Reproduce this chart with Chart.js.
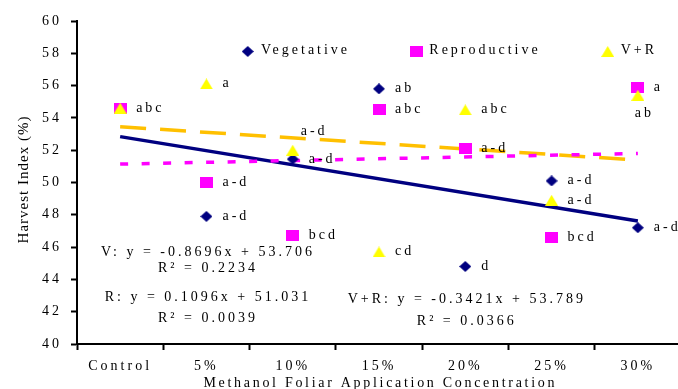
<!DOCTYPE html>
<html>
<head>
<meta charset="utf-8">
<script src="https://cdn.jsdelivr.net/npm/chart.js@4"></script>
<style>
  html, body { margin: 0; padding: 0; background: #fff; overflow: hidden; }
  #chartBox { width: 690px; height: 389px; }
</style>
</head>
<body>
<div id="chartBox"><canvas id="chart" width="690" height="389"></canvas></div>
<script>
// values
const categories = ["Control", "5%", "10%", "15%", "20%", "25%", "30%"];
const vegetative = [54.6, 47.9, 51.45, 55.8, 44.8, 50.1, 47.2];
const reproductive = [54.6, 50.0, 46.7, 54.5, 52.1, 46.6, 55.9];
const vPlusR = [54.6, 56.1, 52.0, 45.7, 54.5, 48.9, 55.4];

const vegLetters = ["", "a-d", "a-d", "ab", "d", "a-d", "a-d"];
const repLetters = ["abc", "a-d", "bcd", "abc", "a-d", "bcd", "a"];
const vrLetters = ["", "a", "a-d", "cd", "abc", "a-d", "ab"];

// trend lines, first and last category
const vegTrend = [52.84, 47.62];
const repTrend = [51.14, 51.80];
const vrTrend = [53.45, 51.39];

const yTicks = [40, 42, 44, 46, 48, 50, 52, 54, 56, 58, 60];

const equations = [
  { text: "V: y = -0.8696x + 53.706", x: 1, y: 45.46 },
  { text: "R\u00b2 = 0.2234", x: 1, y: 44.45 },
  { text: "R: y = 0.1096x + 51.031", x: 1, y: 42.68 },
  { text: "R\u00b2 = 0.0039", x: 1, y: 41.38 },
  { text: "V+R: y = -0.3421x + 53.789", x: 4, y: 42.53 },
  { text: "R\u00b2 = 0.0366", x: 4, y: 41.19 },
];

const serif = "'Liberation Serif', 'Times New Roman', serif";
const navy = "#000080";
const magenta = "#ff00ff";
const yellow = "#ffff00";
const orange = "#ffc000";

const makeMarker = (shape, w, h, color) => {
  const c = document.createElement("canvas");
  c.width = w;
  c.height = h;
  const g = c.getContext("2d");
  g.fillStyle = color;
  g.beginPath();
  if (shape === "diamond") {
    g.moveTo(w / 2, 0); g.lineTo(w, h / 2); g.lineTo(w / 2, h); g.lineTo(0, h / 2);
  } else if (shape === "triangle") {
    g.moveTo(w / 2, 0); g.lineTo(w, h); g.lineTo(0, h);
  } else {
    g.rect(0, 0, w, h);
  }
  g.closePath();
  g.fill();
  return c;
};

const diamond = makeMarker("diamond", 12, 11, navy);
const square = makeMarker("square", 13, 11, magenta);
const triangle = makeMarker("triangle", 13, 11, yellow);

// label offsets from the point (baseline), a couple sit elsewhere
const labelOffset = { dx: 16, dy: 3.5 };
const specialOffsets = { "2-2": { dx: 8, dy: -15.7 }, "2-6": { dx: -3, dy: 21.4 } };

const spacingPlugin = {
  id: "spacing",
  beforeDraw: (chart) => { chart.ctx.letterSpacing = "3px"; },
};

const extrasPlugin = {
  id: "extras",
  afterDraw: (chart) => {
    const ctx = chart.ctx;
    const xs = chart.scales.x;
    const ys = chart.scales.y;
    ctx.save();
    ctx.fillStyle = "#000";
    ctx.font = "14px " + serif;
    ctx.letterSpacing = "3px";
    ctx.textBaseline = "alphabetic";

    // point letters
    [vegLetters, repLetters, vrLetters].forEach((letters, i) => {
      const meta = chart.getDatasetMeta(i);
      letters.forEach((txt, j) => {
        if (!txt) return;
        const pt = meta.data[j];
        const off = specialOffsets[i + "-" + j] || labelOffset;
        ctx.textAlign = "left";
        ctx.fillText(txt, pt.x + off.dx, pt.y + off.dy);
      });
    });

    // equations
    ctx.textAlign = "center";
    equations.forEach((eq) => {
      ctx.fillText(eq.text, xs.getPixelForValue(eq.x) + 1.5, ys.getPixelForValue(eq.y));
    });

    // legend
    const legend = [
      { marker: diamond, label: "Vegetative", mx: 247.7, tx: 261 },
      { marker: square, label: "Reproductive", mx: 416.7, tx: 429.3 },
      { marker: triangle, label: "V+R", mx: 607.7, tx: 620.7 },
    ];
    ctx.textAlign = "left";
    legend.forEach((item) => {
      const m = item.marker;
      ctx.drawImage(m, item.mx - m.width / 2, 51.5 - m.height / 2);
      ctx.fillText(item.label, item.tx, 54.3);
    });

    // axis titles
    ctx.textAlign = "center";
    ctx.letterSpacing = "2.7px";
    ctx.fillText("Methanol Foliar Application Concentration", (chart.chartArea.left + chart.chartArea.right) / 2 + 1.3, 386.7);

    ctx.font = "15px " + serif;
    ctx.letterSpacing = "1px";
    ctx.translate(27.5, 180);
    ctx.rotate(-Math.PI / 2);
    ctx.fillText("Harvest Index (%)", 0.5, 0);
    ctx.restore();
  },
};

const pointSet = (label, data, marker, order) => ({
  label: label,
  data: data,
  showLine: false,
  pointStyle: marker,
  pointRadius: 6,
  order: order,
});

const trendSet = (data, color, dash, order) => ({
  data: [
    { x: categories[0], y: data[0] },
    { x: categories[categories.length - 1], y: data[1] },
  ],
  borderColor: color,
  borderWidth: 3.5,
  borderDash: dash,
  borderCapStyle: "butt",
  pointRadius: 0,
  fill: false,
  order: order,
});

new Chart(document.getElementById("chart").getContext("2d"), {
  type: "line",
  data: {
    labels: categories,
    datasets: [
      pointSet("Vegetative", vegetative, diamond, 3),
      pointSet("Reproductive", reproductive, square, 2),
      pointSet("V+R", vPlusR, triangle, 1),
      trendSet(vegTrend, navy, [], 5),
      trendSet(repTrend, magenta, [8, 13.5], 4),
      trendSet(vrTrend, orange, [26, 14], 6),
    ],
  },
  options: {
    responsive: false,
    animation: false,
    layout: { padding: { top: 21, right: 9, bottom: 0, left: 0 } },
    plugins: {
      legend: { display: false },
      tooltip: { enabled: false },
    },
    scales: {
      x: {
        type: "category",
        offset: true,
        grid: { offset: true, drawOnChartArea: false, tickLength: 6, tickWidth: 2, tickColor: "#000" },
        border: { display: true, color: "#000", width: 2 },
        ticks: { color: "#000", font: { family: serif, size: 14 }, padding: 8, maxRotation: 0, autoSkip: false },
        afterFit: (scale) => { scale.height = 45; },
      },
      y: {
        min: 40,
        max: 60,
        afterBuildTicks: (scale) => { scale.ticks = yTicks.map((v) => ({ value: v })); },
        grid: { drawOnChartArea: false, tickLength: 6, tickWidth: 2, tickColor: "#000" },
        border: { display: true, color: "#000", width: 2 },
        ticks: { color: "#000", font: { family: serif, size: 14 }, padding: 9 },
        afterFit: (scale) => { scale.width = 77; },
      },
    },
  },
  plugins: [spacingPlugin, extrasPlugin],
});
</script>
</body>
</html>
